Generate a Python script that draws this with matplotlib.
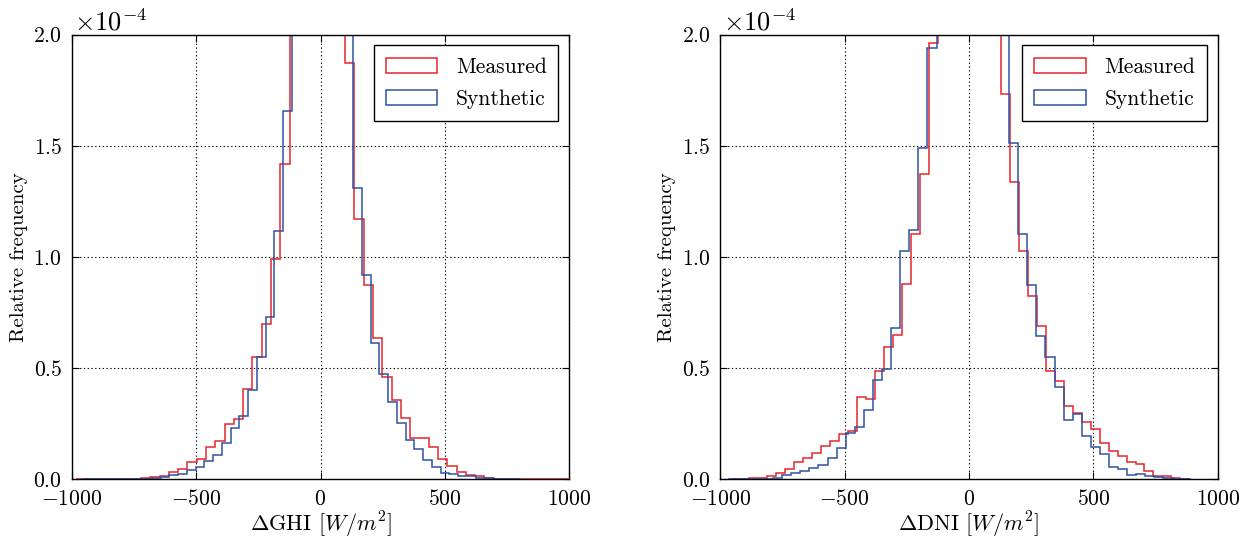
import matplotlib
matplotlib.use('Agg')
import matplotlib.pyplot as plt
import numpy as np

plt.rcParams['font.family'] = 'serif'
plt.rcParams['font.serif'] = ['cmr10']
plt.rcParams['mathtext.fontset'] = 'cm'
plt.rcParams['axes.formatter.use_mathtext'] = True
plt.rcParams['axes.unicode_minus'] = True

SCALE = 1e-4

# histogram bins: first edge, bin width, and relative frequency per bin (x 1e-4)
ghi_meas_start, ghi_meas_width = -982.4, 37.3
ghi_meas = [0.000, 0.001, 0.002, 0.001, 0.000, 0.001, 0.002, 0.004, 0.009, 0.014,
            0.032, 0.045, 0.078, 0.090, 0.145, 0.172, 0.247, 0.271, 0.405, 0.551,
            0.697, 0.991, 1.416, 2.7, 4.1, 6.3, 7.2, 4.6, 2.9, 1.873,
            1.172, 0.874, 0.634, 0.461, 0.357, 0.274, 0.187, 0.185, 0.144, 0.090,
            0.058, 0.034, 0.019, 0.016, 0.004, 0.003, 0.002, 0.001, 0.000, 0.000,
            0.000, 0.000, 0.003]

ghi_syn_start, ghi_syn_width = -959.9, 35.2
ghi_syn = [0.001, 0.000, 0.000, 0.001, 0.001, 0.001, 0.002, 0.003, 0.005, 0.010,
           0.018, 0.026, 0.040, 0.057, 0.082, 0.109, 0.162, 0.229, 0.285, 0.401,
           0.548, 0.728, 1.118, 1.655, 2.5, 3.9, 6.2, 8.1, 5.6, 3.5,
           2.3, 1.310, 0.919, 0.614, 0.473, 0.349, 0.252, 0.177, 0.137, 0.089,
           0.056, 0.030, 0.023, 0.016, 0.015, 0.004, 0.004, 0.003, 0.002, 0.001]

dni_meas_start, dni_meas_width = -955.1, 36.1
dni_meas = [0.002, 0.003, 0.004, 0.007, 0.015, 0.027, 0.045, 0.079, 0.094, 0.120,
            0.150, 0.174, 0.202, 0.219, 0.372, 0.361, 0.487, 0.595, 0.649, 0.879,
            1.102, 1.373, 1.963, 2.6, 3.6, 5.0, 5.8, 4.8, 3.3, 2.3,
            1.731, 1.335, 1.029, 0.826, 0.690, 0.487, 0.442, 0.331, 0.297, 0.259,
            0.225, 0.165, 0.129, 0.105, 0.079, 0.067, 0.037, 0.016, 0.015, 0.0075,
            0.003]

dni_syn_start, dni_syn_width = -970.1, 36.5
dni_syn = [0.001, 0.001, 0.001, 0.002, 0.003, 0.0075, 0.018, 0.027, 0.039, 0.052,
           0.064, 0.094, 0.139, 0.207, 0.237, 0.312, 0.447, 0.496, 0.681, 1.027,
           1.121, 1.491, 1.942, 2.6, 3.8, 5.4, 6.3, 5.6, 4.0, 2.9,
           2.2, 1.511, 1.105, 0.873, 0.645, 0.552, 0.417, 0.267, 0.292, 0.195,
           0.144, 0.114, 0.057, 0.045, 0.019, 0.024, 0.015, 0.010, 0.0075, 0.003,
           0.0015]

x_labels = [r'$\Delta$GHI $[W/m^2]$', r'$\Delta$DNI $[W/m^2]$']
series = [
    ((ghi_meas_start, ghi_meas_width, ghi_meas), (ghi_syn_start, ghi_syn_width, ghi_syn)),
    ((dni_meas_start, dni_meas_width, dni_meas), (dni_syn_start, dni_syn_width, dni_syn)),
]
names = ['Measured', 'Synthetic']
colors = ['#e8262b', '#2f52a3']


def draw_hist(ax, start, width, vals, color, label):
    vals = np.asarray(vals) * SCALE
    edges = start + width * np.arange(len(vals) + 1)
    ax.hist(edges[:-1], bins=edges, weights=vals, histtype='step',
            color=color, lw=1.1, label=label)


fig = plt.figure(figsize=(12.5, 5.41), dpi=100)
positions = [[0.0574, 0.114, 0.398, 0.822], [0.5762, 0.114, 0.398, 0.822]]

for pos, xl, pair in zip(positions, x_labels, series):
    ax = fig.add_axes(pos)
    for (start, width, vals), name, c in zip(pair, names, colors):
        draw_hist(ax, start, width, vals, c, name)
    ax.set_xlim(-1000, 1000)
    ax.set_ylim(0, 2.0e-4)
    ax.set_xticks([-1000, -500, 0, 500, 1000])
    ax.set_yticks([0, 0.5e-4, 1.0e-4, 1.5e-4, 2.0e-4])
    ax.ticklabel_format(axis='y', style='sci', scilimits=(0, 0))
    ax.yaxis.get_offset_text().set_fontsize(19)
    ax.yaxis.get_offset_text().set_x(0.005)
    ax.grid(True, color='k', linestyle=(0, (1.2, 2.2)), lw=0.8)
    ax.tick_params(direction='in', top=True, right=True, length=5,
                   labelsize=15.5, pad=7)
    for sp in ax.spines.values():
        sp.set_linewidth(1.0)
    ax.set_xlabel(xl, fontsize=16, labelpad=1)
    ax.set_ylabel('Relative frequency', fontsize=15)
    leg = ax.legend(loc='upper right', fontsize=15.5, fancybox=False,
                    handlelength=2.4, handletextpad=0.85, labelspacing=0.6,
                    borderpad=0.55, framealpha=1)
    leg.get_frame().set_edgecolor('k')
    leg.get_frame().set_linewidth(1.0)

fig.savefig('out.png', dpi=100)
